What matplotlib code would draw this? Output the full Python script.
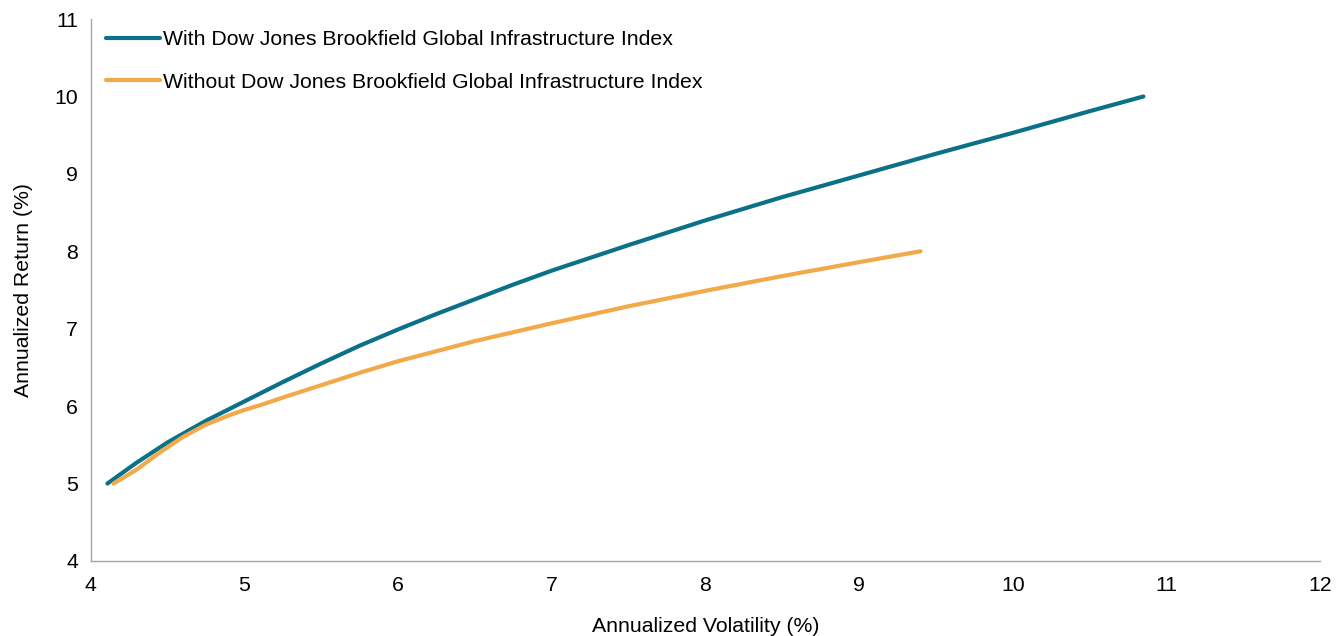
import matplotlib
matplotlib.use("Agg")
import matplotlib.pyplot as plt

plt.rcParams['font.family'] = ['Liberation Sans', 'DejaVu Sans']

with_vol = [4.11, 4.3, 4.5, 4.75, 5.0, 5.25, 5.5, 5.75, 6.0, 6.25, 6.5, 6.75, 7.0, 7.5, 8.0, 8.5, 9.0, 9.5, 10.0, 10.5, 10.85]
with_ret = [5.00, 5.27, 5.53, 5.81, 6.06, 6.31, 6.55, 6.78, 6.99, 7.19, 7.38, 7.57, 7.75, 8.08, 8.40, 8.70, 8.98, 9.26, 9.53, 9.81, 10.00]

without_vol = [4.15, 4.3, 4.45, 4.6, 4.75, 4.9, 5.0, 5.1, 5.25, 5.5, 5.75, 6.0, 6.5, 7.0, 7.5, 8.0, 8.5, 9.0, 9.4]
without_ret = [5.00, 5.18, 5.40, 5.60, 5.76, 5.88, 5.95, 6.01, 6.11, 6.27, 6.43, 6.58, 6.84, 7.07, 7.29, 7.49, 7.68, 7.86, 8.00]

labels = ["With Dow Jones Brookfield Global Infrastructure Index",
          "Without Dow Jones Brookfield Global Infrastructure Index"]
colors = ["#0B7189", "#F2A94A"]

x_ticks = [4, 5, 6, 7, 8, 9, 10, 11, 12]
y_ticks = [4, 5, 6, 7, 8, 9, 10, 11]

FS = 15.3

fig = plt.figure(figsize=(13.43, 6.36), dpi=100)
ax = fig.add_axes([0.0674, 0.118, 0.9156, 0.852])

ax.plot(with_vol, with_ret, color=colors[0], lw=3.0, solid_capstyle='round',
        solid_joinstyle='round', label=labels[0])
ax.plot(without_vol, without_ret, color=colors[1], lw=3.0, solid_capstyle='round',
        solid_joinstyle='round', label=labels[1])

ax.set_xlim(4, 12)
ax.set_ylim(4, 11)
ax.set_xticks(x_ticks)
ax.set_yticks(y_ticks)
ax.tick_params(length=0, labelsize=FS, colors='#000000')
ax.tick_params(axis='x', pad=11)
ax.tick_params(axis='y', pad=9)
for s in ['top', 'right']:
    ax.spines[s].set_visible(False)
for s in ['left', 'bottom']:
    ax.spines[s].set_color('#A6A6A6')
    ax.spines[s].set_linewidth(1.0)

ax.set_xlabel("Annualized Volatility (%)", fontsize=FS, labelpad=15.5)
ax.set_ylabel("Annualized Return (%)", fontsize=FS, labelpad=15.5)

ax.legend(loc='upper left', bbox_to_anchor=(0.0, 1.0092), frameon=False, fontsize=FS,
          handlelength=2.5, handletextpad=0.15, labelspacing=1.12, borderaxespad=0.35)

fig.savefig("out.png", dpi=100)
